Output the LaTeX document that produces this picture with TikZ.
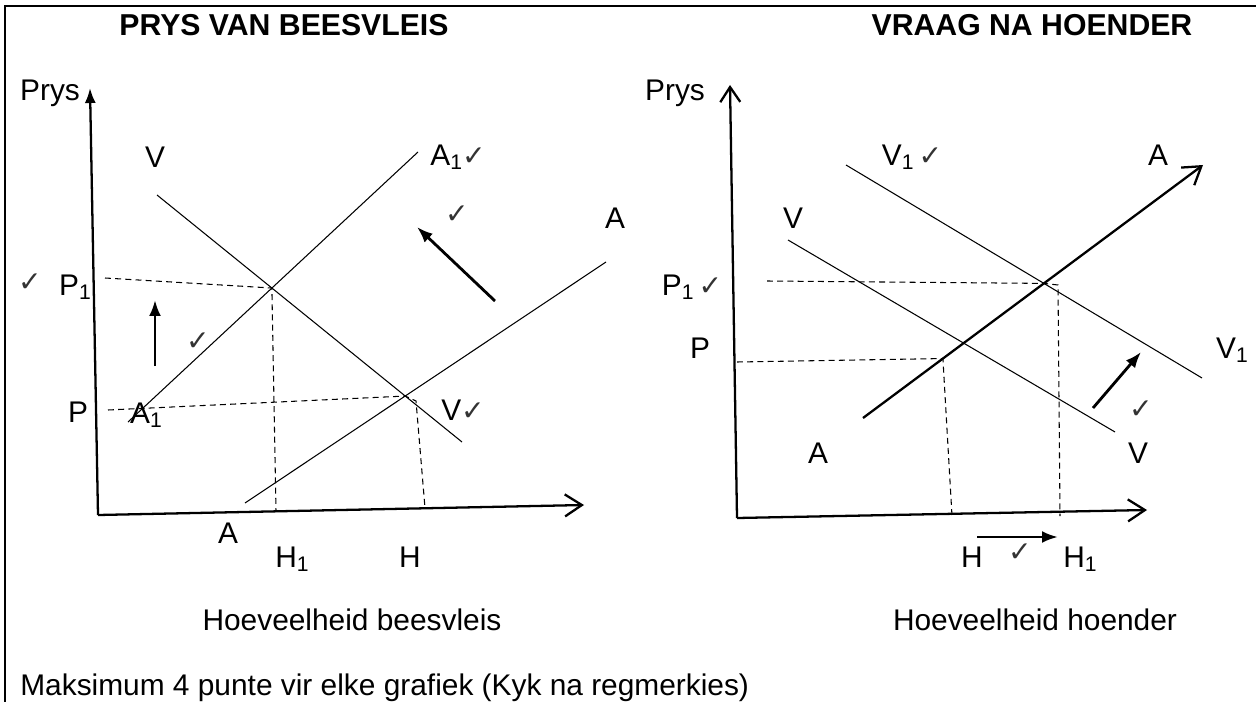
\documentclass[tikz,border=0pt]{standalone}
\usepackage{fontspec}
\setmainfont{Liberation Sans}
\newfontfamily\dejavu{DejaVu Sans}
\usetikzlibrary{arrows.meta,calc}
\newcommand{\regmerk}{{\dejavu\fontsize{16}{16}\selectfont\color{black!80}✓}}
\newcommand{\ondr}[1]{\raisebox{-0.25ex}{\fontsize{12}{12}\selectfont #1}}
\tikzset{
lbl/.style={inner sep=0pt, text height=12.2pt, text depth=0pt, font=\fontsize{17}{20}\selectfont},
ttl/.style={inner sep=0pt, text height=12.2pt, text depth=0pt, font=\fontsize{17.2}{20}\selectfont\bfseries},
chk/.style={inner sep=0pt},
kromme/.style={line width=0.6pt},
asline/.style={line width=1.3pt},
skuif/.style={line width=1.6pt, -{Latex[length=3.2mm,width=2.4mm]}},
guide/.style={line width=0.6pt, dash pattern=on 3.4pt off 2.4pt}
}

\begin{document}
\begin{tikzpicture}[x=0.02cm, y=-0.02cm]
  \useasboundingbox (0,0) rectangle (1256,702);
  \draw[line width=0.8pt] (5,702) -- (5,6) -- (1256,6);

  \node[ttl] (t1) at (284,25) {PRYS VAN BEESVLEIS};
  \node[ttl] (t2) at (1032,25) {VRAAG NA HOENDER};

  % prys van beesvleis
  \coordinate (O1) at (98,515);
  \coordinate (Y1) at (90,88);
  \coordinate (X1) at (584,505);
  \draw[asline,-{Latex[length=3mm,width=2.2mm]}] (O1) -- (Y1);
  \draw[asline,-{Straight Barb[length=3.4mm,width=4.4mm]}] (O1) -- (X1);

  \coordinate (Va) at (157,195);
  \coordinate (Vb) at (462,442);
  \coordinate (A1a) at (128,422);
  \coordinate (A1b) at (418,152);
  \coordinate (Aa) at (245,503);
  \coordinate (Ab) at (606,262);
  \coordinate (E1) at (intersection of Va--Vb and A1a--A1b);
  \coordinate (E0) at (intersection of Va--Vb and Aa--Ab);
  \draw[kromme] (Va) -- (Vb);
  \draw[kromme] (A1a) -- (A1b);
  \draw[kromme] (Aa) -- (Ab);

  \coordinate (p1l) at (105,278);
  \coordinate (h1l) at (276,511);
  \coordinate (pl) at (108,410);
  \coordinate (k0) at (416,401);
  \coordinate (hl) at (425,508);
  \draw[guide] (p1l) -- (E1) -- (h1l);
  \draw[guide] (pl) -- (E0) -- (k0) -- (hl);

  \coordinate (up0) at (155,366);
  \coordinate (up1) at (155,300);
  \coordinate (nw0) at (495,301);
  \coordinate (nw1) at (417,227);
  \draw[skuif] (up0) -- (up1);
  \draw[skuif] (nw0) -- (nw1);

  \node[lbl] (prys1) at (50,90) {Prys};
  \node[lbl] (lV) at (155,157) {V};
  \node[lbl] (lA1) at (458,155) {A\ondr{1}\regmerk};
  \node[lbl] (lA) at (615,218) {A};
  \node[chk] (c1) at (30,283) {\regmerk};
  \node[lbl] (lP1) at (75,285) {P\ondr{1}};
  \node[lbl] (lP) at (78,412) {P};
  \node[lbl] (lA1b) at (146,413) {A\ondr{1}};
  \node[lbl] (lVb) at (463,410) {V\regmerk};
  \node[lbl] (lAb) at (228,533) {A};
  \node[lbl] (lH1) at (292,557) {H\ondr{1}};
  \node[lbl] (lH) at (410,557) {H};
  \node[chk] (c2) at (198,342) {\regmerk};
  \node[chk] (c3) at (457,215) {\regmerk};
  \node[lbl] (q1) at (352,620) {Hoeveelheid beesvleis};

  % vraag na hoender
  \coordinate (O2) at (737,518);
  \coordinate (Y2) at (730,85);
  \coordinate (X2) at (1147,510);
  \draw[asline,-{Straight Barb[length=3mm,width=4mm]}] (O2) -- (Y2);
  \draw[asline,-{Straight Barb[length=3.4mm,width=4.4mm]}] (O2) -- (X2);

  \coordinate (V1a) at (846,165);
  \coordinate (V1b) at (1202,378);
  \coordinate (V2a) at (788,240);
  \coordinate (V2b) at (1115,432);
  \coordinate (Sa) at (863,418);
  \coordinate (Sb) at (1203,165);
  \coordinate (F1) at (intersection of V1a--V1b and Sa--Sb);
  \coordinate (F0) at ($(Sa)!0.235!(Sb)$);
  \draw[kromme] (V1a) -- (V1b);
  \draw[kromme] (V2a) -- (V2b);
  \draw[asline,-{Straight Barb[length=3.4mm,width=4.4mm]}] (Sa) -- (Sb);

  \coordinate (p1r) at (767,281);
  \coordinate (k1) at (1058,285);
  \coordinate (h1r) at (1060,516);
  \coordinate (pr) at (737,362);
  \coordinate (hr) at (952,516);
  \draw[guide] (p1r) -- (F1) -- (k1) -- (h1r);
  \draw[guide] (pr) -- (F0) -- (hr);

  \coordinate (hh0) at (977,537);
  \coordinate (hh1) at (1058,537);
  \coordinate (ne0) at (1093,408);
  \coordinate (ne1) at (1141,352);
  \draw[skuif] (hh0) -- (hh1);
  \draw[skuif] (ne0) -- (ne1);

  \node[lbl] (prys2) at (675,90) {Prys};
  \node[lbl] (rV1) at (912,155) {V\ondr{1}\,\regmerk};
  \node[lbl] (rA) at (1158,155) {A};
  \node[lbl] (rV) at (793,218) {V};
  \node[lbl] (rP1) at (692,285) {P\ondr{1}\,\regmerk};
  \node[lbl] (rP) at (700,348) {P};
  \node[lbl] (rV1b) at (1232,348) {V\ondr{1}};
  \node[lbl] (rAb) at (818,453) {A};
  \node[lbl] (rVb) at (1138,453) {V};
  \node[lbl] (rH) at (972,557) {H};
  \node[chk] (c4) at (1020,553) {\regmerk};
  \node[lbl] (rH1) at (1080,557) {H\ondr{1}};
  \node[chk] (c5) at (1141,410) {\regmerk};
  \node[lbl] (q2) at (1035,620) {Hoeveelheid hoender};

  \node[lbl,anchor=west] (voet) at (20,685) {Maksimum 4 punte vir elke grafiek (Kyk na regmerkies)};
\end{tikzpicture}
\end{document}
